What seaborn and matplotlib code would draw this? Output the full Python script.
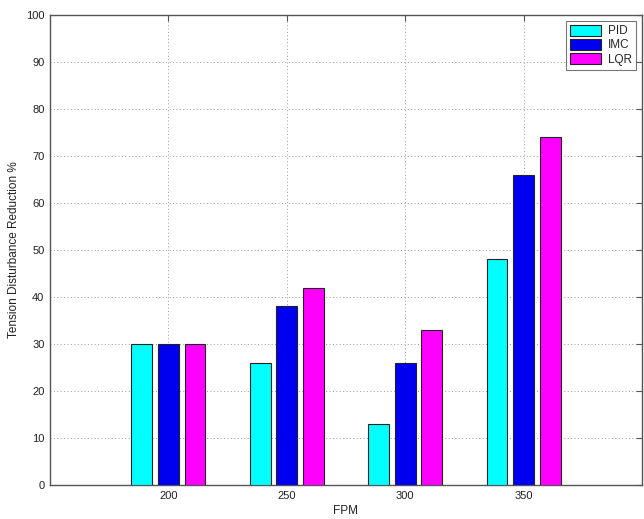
import matplotlib
matplotlib.use("Agg")
import matplotlib.pyplot as plt
import seaborn as sns
import pandas as pd

# Operating speeds (feet per minute) and controller results
speeds = ["200", "250", "300", "350"]
controllers = ["PID", "IMC", "LQR"]
pid = [30, 26, 13, 48]
imc = [30, 38, 26, 66]
lqr = [30, 42, 33, 74]

colors = {"PID": "#00FFFF", "IMC": "#0000F0", "LQR": "#FF00FF"}

rows = []
for name, vals in zip(controllers, [pid, imc, lqr]):
    for s, v in zip(speeds, vals):
        rows.append({"FPM": s, "Controller": name, "Reduction": v})
df = pd.DataFrame(rows)

sns.set_style("white")
plt.rcParams["font.family"] = ["Liberation Sans", "DejaVu Sans"]

fig = plt.figure(figsize=(6.44, 5.19), dpi=100)
ax = fig.add_axes([50 / 644, 1 - 485 / 519, 592 / 644, 470 / 519])

sns.barplot(data=df, x="FPM", y="Reduction", hue="Controller",
            order=speeds, hue_order=controllers, palette=colors,
            width=0.675, gap=0.22, edgecolor="#222222", linewidth=0.8,
            saturation=1, errorbar=None, ax=ax, zorder=3)

ax.set_xlim(-1, 4)
ax.set_ylim(0, 100)
ax.set_yticks(range(0, 101, 10))
ax.grid(True, which="major", axis="both", linestyle=(0, (1, 2.5)),
        color="#9a9a9a", linewidth=0.7, zorder=0)
ax.set_axisbelow(True)

ax.tick_params(axis="both", direction="in", length=4, width=0.8,
               color="#555555", labelsize=8, labelcolor="#222222",
               pad=4, top=True, right=True)
for sp in ax.spines.values():
    sp.set_visible(True)
    sp.set_color("#555555")
    sp.set_linewidth(1.0)

ax.set_xlabel("FPM", fontsize=8.5, color="#222222", labelpad=3)
ax.set_ylabel("Tension Disturbance Reduction %", fontsize=8.5,
              color="#222222", labelpad=4)

leg = ax.legend(loc="upper right", fontsize=8.5, frameon=True, fancybox=False,
                edgecolor="#555555", borderpad=0.35, handlelength=2.6,
                handleheight=1.0, handletextpad=0.6, labelspacing=0.15,
                borderaxespad=0.5)
leg.get_frame().set_linewidth(0.8)
leg.get_title().set_visible(False)

fig.savefig("out.png", dpi=100)
